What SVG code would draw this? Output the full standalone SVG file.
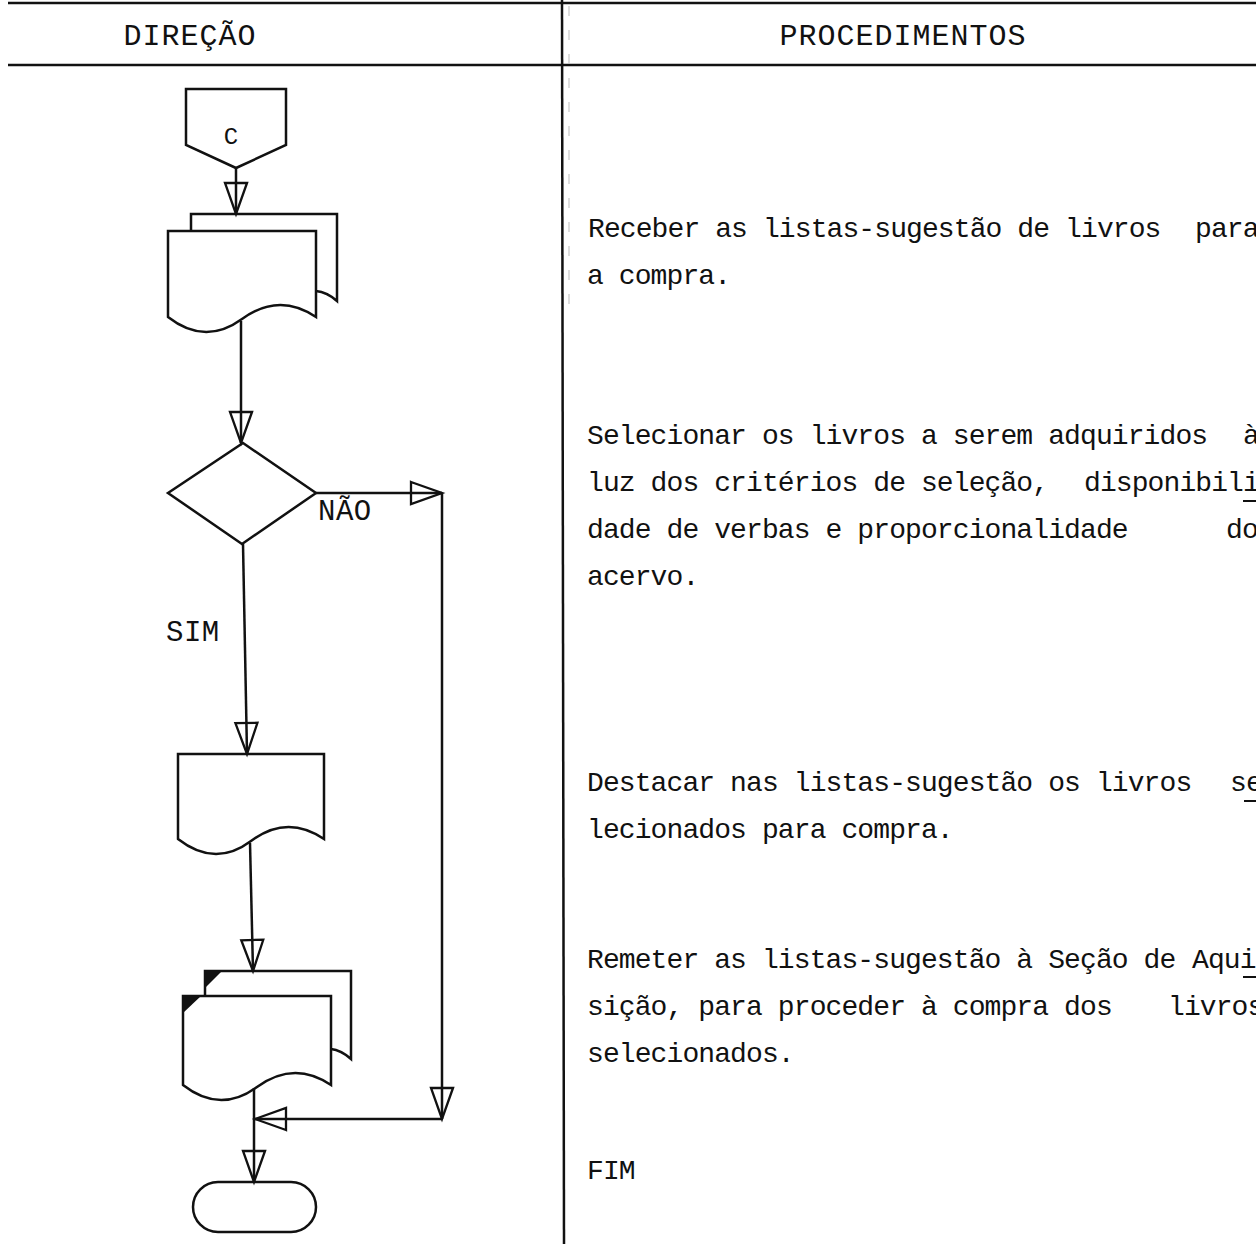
<svg xmlns="http://www.w3.org/2000/svg" width="1256" height="1244" viewBox="0 0 1256 1244">
  <style>
    .ln { fill: none; stroke: #111; stroke-width: 2.5; stroke-linejoin: miter; }
    .shape { fill: #fff; stroke: #111; stroke-width: 2.5; stroke-linejoin: miter; }
    .hd { font-family: "Liberation Mono", "DejaVu Sans Mono", monospace; font-size: 30px; letter-spacing: 1px; fill: #111; }
    .lbl { font-family: "Liberation Mono", "DejaVu Sans Mono", monospace; font-size: 29px; letter-spacing: 0.5px; fill: #111; }
    .tx { font-family: "Liberation Mono", "DejaVu Sans Mono", monospace; font-size: 28px; letter-spacing: -0.9px; fill: #111; }
    .hy { stroke: #111; stroke-width: 2; }
  </style>
  <defs>
    <marker id="tri" markerUnits="userSpaceOnUse" markerWidth="40" markerHeight="30" refX="32" refY="12" orient="auto" overflow="visible">
      <path d="M1,1 L32,12 L1,23 Z" fill="none" stroke="#111" stroke-width="2.3" stroke-linejoin="miter"/>
    </marker>
  </defs>

  <rect width="1256" height="1244" fill="#fff"/>

  <!-- table frame: header band and column divider -->
  <g id="frame">
    <line class="ln" x1="8" y1="3" x2="1256" y2="3"/>
    <line class="ln" x1="8" y1="65" x2="1256" y2="65"/>
    <line class="ln" x1="562" y1="0" x2="564" y2="1244"/>
    <line x1="569" y1="6" x2="569" y2="312" stroke="#bbb" stroke-width="1" stroke-dasharray="10 14"/>
    <text class="hd" x="190" y="45" text-anchor="middle">DIREÇÃO</text>
    <text class="hd" x="903" y="45" text-anchor="middle">PROCEDIMENTOS</text>
  </g>

  <!-- off-page connector -->
  <g id="start">
    <polygon class="shape" points="186,89 286,89 286,145 236,168 186,145"/>
    <text x="231" y="144" text-anchor="middle" font-family="Liberation Mono, monospace" font-size="24" fill="#111">C</text>
  </g>

  <!-- received suggestion lists (multiple documents) -->
  <g id="receive">
    <path class="shape" d="M191,231 V214 H337 V301 Q327,292 316,291"/>
    <path class="shape" d="M168,231 H316 V317 Q279,292 242,319 Q205,346 168,317 Z"/>
  </g>

  <!-- selection decision -->
  <g id="decide">
    <polygon class="shape" points="243,443 316,493 242,544 168,493"/>
    <text class="lbl" x="318" y="520">NÃO</text>
    <text class="lbl" x="166" y="641">SIM</text>
  </g>

  <!-- marked list -->
  <g id="mark">
    <path class="shape" d="M178,754 H324 V839 Q287,814 251,841 Q215,868 178,839 Z"/>
  </g>

  <!-- lists sent on (multiple documents with tabbed corners) -->
  <g id="send">
    <path class="shape" d="M205,996 V971 H351 V1059 Q341,1050 331,1049"/>
    <polygon points="205,971 222,971 205,988" fill="#111"/>
    <path class="shape" d="M183,996 H331 V1085 Q294,1060 257,1087 Q220,1114 183,1085 Z"/>
    <polygon points="183,996 201,996 183,1013" fill="#111"/>
  </g>

  <!-- terminal -->
  <g id="end">
    <rect class="shape" x="193" y="1182" width="123" height="50" rx="25" ry="25"/>
  </g>

  <!-- flow lines -->
  <g id="connectors">
    <path class="ln" d="M236,168 V214" marker-end="url(#tri)"/>
    <path class="ln" d="M241,321 V443" marker-end="url(#tri)"/>
    <path class="ln" d="M243,544 L247,754" marker-end="url(#tri)"/>
    <path class="ln" d="M250,843 L253,971" marker-end="url(#tri)"/>
    <path class="ln" d="M316,493 H442" marker-end="url(#tri)"/>
    <path class="ln" d="M442,493 V1119" marker-end="url(#tri)"/>
    <path class="ln" d="M442,1119 H255" marker-end="url(#tri)"/>
    <path class="ln" d="M254,1088 V1182" marker-end="url(#tri)"/>
  </g>

  <!-- procedure text -->
  <g id="procedures">
    <text class="tx" x="588" y="237">Receber as listas-sugestão de livros</text>
    <text class="tx" x="1195" y="237">para</text>
    <text class="tx" x="587" y="284">a compra.</text>

    <text class="tx" x="587" y="444">Selecionar os livros a serem adquiridos</text>
    <text class="tx" x="1243" y="444">à</text>
    <text class="tx" x="587" y="491">luz dos critérios de seleção,</text>
    <text class="tx" x="1084" y="491">disponibili</text>
    <line class="hy" x1="1243" y1="501" x2="1256" y2="501"/>
    <text class="tx" x="587" y="538">dade de verbas e proporcionalidade</text>
    <text class="tx" x="1226" y="538">do</text>
    <text class="tx" x="587" y="585">acervo.</text>

    <text class="tx" x="587" y="791">Destacar nas listas-sugestão os livros</text>
    <text class="tx" x="1230" y="791">se</text>
    <line class="hy" x1="1244" y1="801" x2="1256" y2="801"/>
    <text class="tx" x="587" y="838">lecionados para compra.</text>

    <text class="tx" x="587" y="968">Remeter as listas-sugestão à Seção de</text>
    <text class="tx" x="1192" y="968">Aqui</text>
    <line class="hy" x1="1243" y1="977" x2="1256" y2="977"/>
    <text class="tx" x="587" y="1015">sição, para proceder à compra dos</text>
    <text class="tx" x="1168" y="1015">livros</text>
    <text class="tx" x="587" y="1062">selecionados.</text>

    <text class="tx" x="587" y="1179">FIM</text>
  </g>
</svg>
